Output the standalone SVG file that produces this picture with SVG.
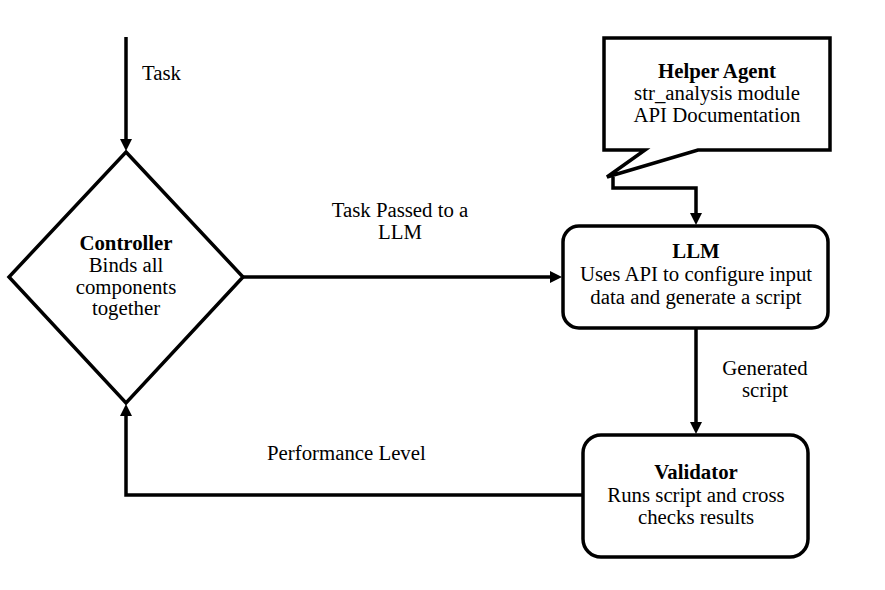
<svg xmlns="http://www.w3.org/2000/svg" width="885" height="590" viewBox="0 0 885 590" font-family="Liberation Serif, Times New Roman, serif">
<style>
text{font-family:'Liberation Serif','Times New Roman',serif;font-size:20.8px;fill:#000}
.b{font-weight:bold}
.m{text-anchor:middle}
.shape{fill:#fff;stroke:#000;stroke-width:3.5}
.conn{fill:none;stroke:#000;stroke-width:3.5}
</style>
<defs>
<marker id="ah" markerWidth="12" markerHeight="12" refX="8" refY="6" orient="auto" markerUnits="userSpaceOnUse" viewBox="0 0 12 12">
<path d="M0,0 L12,6 L0,12 Z" fill="#000"/>
</marker>
</defs>
<rect width="885" height="590" fill="#fff"/>
<g id="connectors">
<path class="conn" d="M126,37 V147" marker-end="url(#ah)"/>
<path class="conn" d="M243,277 H558" marker-end="url(#ah)"/>
<path class="conn" d="M613,177 V188 H696 V221" marker-end="url(#ah)"/>
<path class="conn" d="M696,328 V430" marker-end="url(#ah)"/>
<path class="conn" d="M583,495 H126 V408" marker-end="url(#ah)"/>
</g>
<g id="labels">
<text x="142" y="80">Task</text>
<text class="m" x="400" y="217">Task Passed to a</text>
<text class="m" x="400" y="239">LLM</text>
<text class="m" x="765" y="375">Generated</text>
<text class="m" x="765" y="397">script</text>
<text x="267" y="460">Performance Level</text>
</g>
<g id="controller">
<path class="shape" d="M126,152 L243,277 L126,403 L9,277 Z"/>
<text class="m b" x="126" y="250">Controller</text>
<text class="m" x="126" y="272">Binds all</text>
<text class="m" x="126" y="294">components</text>
<text class="m" x="126" y="315">together</text>
</g>
<g id="helper">
<path class="shape" d="M604,38 H830 V150 H698 L607,177 L645,150 H604 Z"/>
<text class="m b" x="717" y="78">Helper Agent</text>
<text class="m" x="717" y="100">str_analysis module</text>
<text class="m" x="717" y="122">API Documentation</text>
</g>
<g id="llm">
<rect class="shape" x="563" y="226" width="265" height="102" rx="16"/>
<text class="m b" x="696" y="258">LLM</text>
<text class="m" x="696" y="281">Uses API to configure input</text>
<text class="m" x="696" y="304">data and generate a script</text>
</g>
<g id="validator">
<rect class="shape" x="583" y="435" width="225" height="122" rx="18"/>
<text class="m b" x="696" y="479">Validator</text>
<text class="m" x="696" y="502">Runs script and cross</text>
<text class="m" x="696" y="524">checks results</text>
</g>
</svg>
